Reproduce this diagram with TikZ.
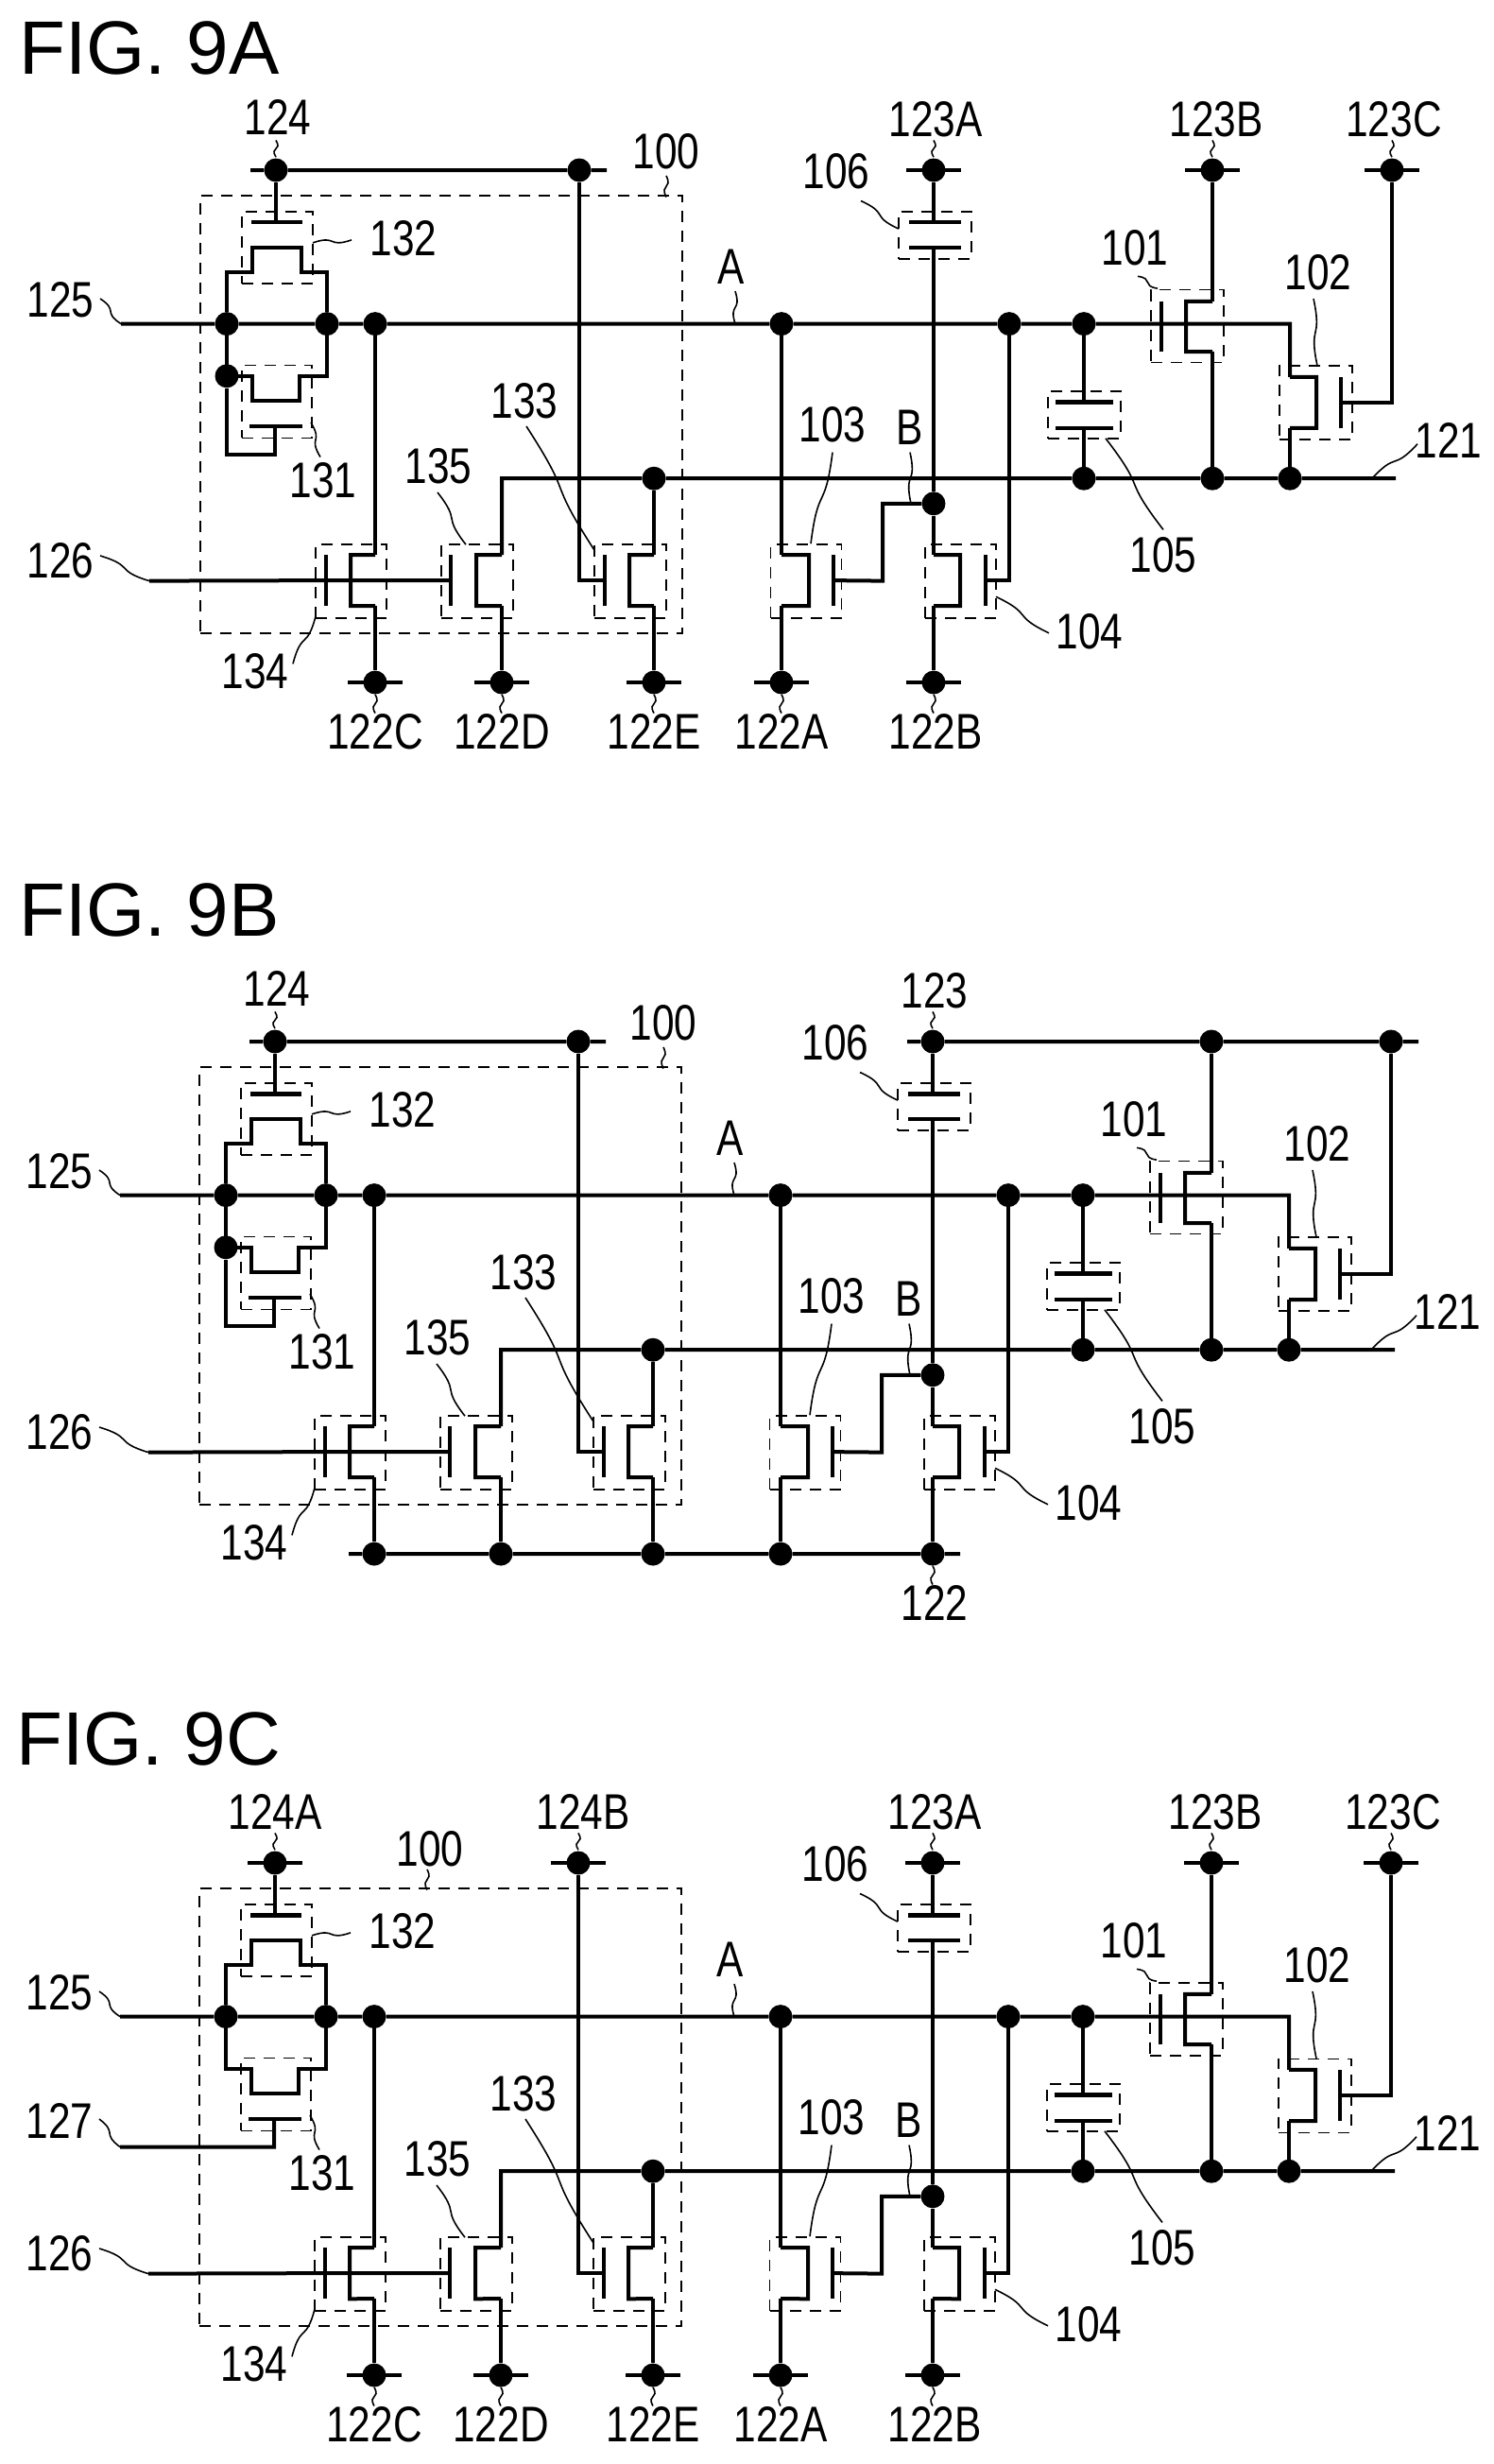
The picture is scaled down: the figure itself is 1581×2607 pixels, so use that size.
\documentclass[tikz,border=0pt]{standalone}
\usepackage{fontspec}
\setmainfont{Liberation Sans}
\newfontfamily\numfont[FakeStretch=0.8]{Liberation Sans}
\usetikzlibrary{calc}

% wiggly reference line between two points
\newcommand{\refline}[3]{
  \coordinate (#1s) at (#2);
  \coordinate (#1e) at (#3);
  \draw[refl] (#1s) .. controls ($($(#1s)!.65!(#1e)$)!7pt!90:(#1e)$) and ($($(#1s)!.35!(#1e)$)!-7pt!90:(#1e)$) .. (#1e);
}
% transistor: name, wire x, channel x, gate x, top y, bottom y
\newcommand{\fetdev}[6]{
  \coordinate (#1t) at (#2,#5);
  \coordinate (#1b) at (#2,#6);
  \coordinate (#1g) at (#4,{(#5+#6)/2});
  \draw[wire] (#1t) -- (#3,#5) -- (#3,#6) -- (#1b);
  \draw[plate] (#4,#5) -- (#4,#6);
}
% terminal: dot with short stubs
\newcommand{\termdot}[2]{
  \node[junction] (#1) at (#2) {};
  \draw[stub] ($(#1)+(-29,0)$) -- ($(#1)+(29,0)$);
}
% everything the three figures share
\newcommand{\circuitcore}{
  \node[tbox,minimum width=510pt,minimum height=463pt] (box100) at (467,441) {};
  \node[tbox,minimum width=75pt,minimum height=76pt] (box132) at (293.5,262) {};
  \node[tbox,minimum width=74pt,minimum height=77pt] (box131) at (293,427.5) {};
  \node[tbox,minimum width=75pt,minimum height=78pt] (box134) at (371.5,620) {};
  \node[tbox,minimum width=76pt,minimum height=78pt] (box135) at (505,620) {};
  \node[tbox,minimum width=76pt,minimum height=78pt] (box133) at (667,620) {};
  \node[tbox,minimum width=75pt,minimum height=78pt] (box103) at (853,620) {};
  \node[tbox,minimum width=75pt,minimum height=78pt] (box104) at (1016.5,620) {};
  \node[tbox,minimum width=77pt,minimum height=50pt] (box106) at (989.5,249) {};
  \node[tbox,minimum width=77pt,minimum height=50pt] (box105) at (1147.5,442) {};
  \node[tbox,minimum width=77pt,minimum height=77pt] (box101) at (1256.5,346.5) {};
  \node[tbox,minimum width=77pt,minimum height=78pt] (box102) at (1392.5,429) {};
  \node[junction] (nodeL) at (240,344) {};
  \node[junction] (nodeR) at (346,344) {};
  \node[junction] (nodeQ) at (397,344) {};
  \node[junction] (nodeA1) at (827,344) {};
  \node[junction] (nodeA2) at (1068,344) {};
  \node[junction] (nodeA3) at (1147,344) {};
  \node[junction] (nodeE) at (692,510) {};
  \node[junction] (nodeC) at (1147,510) {};
  \node[junction] (nodeF) at (1283,510) {};
  \node[junction] (nodeG) at (1365,510) {};
  \node[junction] (nodeB) at (988,537) {};
  \fetdev{t134}{397}{371}{345}{592}{647}
  \fetdev{t135}{531}{504}{477}{592}{647}
  \fetdev{t133}{692}{666}{640}{592}{647}
  \fetdev{t103}{827}{856}{882}{592}{647}
  \fetdev{t104}{988}{1016}{1043}{592}{647}
  \fetdev{t101}{1283}{1255}{1229}{320}{374}
  \fetdev{t102}{1365}{1393}{1419}{401}{456}
  % switch pair
  \coordinate (g132) at (292,235);
  \coordinate (g131) at (291,454);
  \draw[plate] (266,235) -- (320,235);
  \draw[plate] (264,454) -- (320,454);
  \draw[wire] (nodeL) -- (240,289) -- (267,289) -- (267,262) -- (319,262) -- (319,289) -- (346,289) -- (nodeR);
  \draw[wire] (nodeR) -- (346,400) -- (317,400) -- (317,427) -- (267,427) -- (267,400) -- (240,400) -- (nodeL);
  % node A and the low line
  \coordinate (cornerA) at (1365,344);
  \draw[wire] (nodeL) -- (nodeR) -- (nodeQ) -- (nodeA1) -- (nodeA2) -- (nodeA3) -- (cornerA) -- (t102t);
  \coordinate (end121) at (1477,510);
  \draw[wire] (t135t) |- (nodeE) -- (nodeC) -- (nodeF) -- (nodeG) -- (end121);
  \draw[wire] (nodeQ) -- (t134t);
  \draw[wire] (nodeE) -- (t133t);
  \draw[wire] (nodeA1) -- (t103t);
  \draw[wire] (nodeB) -- (t104t);
  \draw[wire] (nodeA2) |- (t104g);
  \draw[wire] (nodeB) -| (934,620) -- (t103g);
  \draw[wire] (nodeG) -- (t102b);
  \draw[wire] (t101b) -- (nodeF);
  % capacitors
  \coordinate (p106a) at (988,235);
  \coordinate (p106b) at (988,262);
  \draw[plate] (962,235) -- (1017,235);
  \draw[plate] (962,262) -- (1017,262);
  \draw[wire] (p106b) -- (nodeB);
  \coordinate (p105a) at (1147,428);
  \coordinate (p105b) at (1147,456);
  \draw[plate] (1117,428) -- (1178,428);
  \draw[plate] (1117,456) -- (1178,456);
  \draw[wire] (nodeA3) -- (p105a);
  \draw[wire] (p105b) -- (nodeC);
  % gate line 126
  \refline{r126}{106,593}{158,620}
  \draw[wire] (r126e) -- (t134g) -- (t135g);
  % labels
  \node[numlabel] (lab125) at (64,318) {125};
  \refline{r125}{106,317}{128,344}
  \draw[wire] (r125e) -- (nodeL);
  \node[numlabel] (lab126) at (64,598) {126};
  \node[numlabel] (lab132) at (427,252) {132};
  \refline{r132}{331,257}{372,254}
  \node[numlabel] (lab131) at (342,512) {131};
  \refline{r131}{329,450}{339,487}
  \node[numlabel] (lab133) at (555,427) {133};
  \refline{r133}{557,454}{629,587}
  \node[numlabel] (lab135) at (464,497) {135};
  \refline{r135}{463,525}{493,581}
  \node[numlabel] (lab134) at (270,717) {134};
  \refline{r134}{334,658}{310,709}
  \node[numlabel] (labA) at (774,283) {A};
  \refline{rA}{778,309}{778,344}
  \node[numlabel] (lab106) at (885,180) {106};
  \refline{r106}{911,212}{951,242}
  \node[numlabel] (lab101) at (1201,262) {101};
  \refline{r101}{1204,293}{1225,306}
  \node[numlabel] (lab102) at (1395,289) {102};
  \refline{r102}{1390,317}{1394,389}
  \node[numlabel] (lab103) at (881,452) {103};
  \refline{r103}{881,482}{858,580}
  \node[numlabel] (labB) at (963,455) {B};
  \refline{rB}{963,482}{964,537}
  \node[numlabel] (lab121) at (1533,469) {121};
  \refline{r121}{1500,473}{1452,510}
  \node[numlabel] (lab105) at (1231,592) {105};
  \refline{r105}{1170,467}{1231,565}
  \node[numlabel] (lab104) at (1153,674) {104};
  \refline{r104}{1054,637}{1110,676}
}
% separate terminals on the low side (figures A and C)
\newcommand{\lowterminals}{
  \termdot{end122C}{397,729}
  \termdot{end122D}{531,729}
  \termdot{end122E}{692,729}
  \termdot{end122A}{827,729}
  \termdot{end122B}{988,729}
  \draw[wire] (t134b) -- (end122C);
  \draw[wire] (t135b) -- (end122D);
  \draw[wire] (t133b) -- (end122E);
  \draw[wire] (t103b) -- (end122A);
  \draw[wire] (t104b) -- (end122B);
  \node[numlabel] (lab122C) at (397,782) {122C};
  \node[numlabel] (lab122D) at (531,782) {122D};
  \node[numlabel] (lab122E) at (692,782) {122E};
  \node[numlabel] (lab122A) at (827,782) {122A};
  \node[numlabel] (lab122B) at (990,782) {122B};
  \refline{r122C}{397,742}{397,762}
  \refline{r122D}{531,742}{531,762}
  \refline{r122E}{692,742}{692,762}
  \refline{r122A}{827,742}{827,762}
  \refline{r122B}{988,742}{988,762}
}
% separate terminals on the high side (figures A and C)
\newcommand{\highterminals}{
  \termdot{end123A}{988,179}
  \termdot{end123B}{1283,179}
  \termdot{end123C}{1473,179}
  \draw[wire] (end123A) -- (p106a);
  \draw[wire] (end123B) -- (t101t);
  \draw[wire] (end123C) |- (t102g);
  \node[numlabel] (lab123A) at (990,124) {123A};
  \node[numlabel] (lab123B) at (1287,124) {123B};
  \node[numlabel] (lab123C) at (1475,124) {123C};
  \refline{r123A}{988,147}{988,165}
  \refline{r123B}{1283,147}{1283,165}
  \refline{r123C}{1473,147}{1473,165}
}
% shared line 124 with the short-circuit gate of 131 (figures A and B)
\newcommand{\sharedgate}{
  \node[junction] (end124) at (292,179) {};
  \node[junction] (node124) at (613,179) {};
  \coordinate (stub124a) at (265,179);
  \coordinate (stub124b) at (642,179);
  \draw[wire] (stub124a) -- (end124) -- (node124) -- (stub124b);
  \draw[wire] (end124) -- (g132);
  \draw[wire] (node124) |- (t133g);
  \node[numlabel] (lab124) at (294,122) {124};
  \refline{r124}{292,147}{292,165}
  \node[junction] (node131) at (240,400) {};
  \draw[wire] (g131) -- (291,484) -- (240,484) -- (node131);
}

\begin{document}
\begin{tikzpicture}[x=1pt,y=-1pt,
    wire/.style={line width=4pt,line join=miter},
    plate/.style={line width=4.6pt},
    stub/.style={line width=3.6pt},
    refl/.style={line width=1.6pt},
    junction/.style={circle,fill=black,inner sep=0pt,minimum size=25pt},
    tbox/.style={draw,line width=1.8pt,dash pattern=on 12pt off 9pt,inner sep=0pt},
    numlabel/.style={inner sep=0pt,font=\numfont\fontsize{53}{56}\selectfont},
    figtitle/.style={inner sep=0pt,anchor=west,font=\fontsize{80}{90}\selectfont}]
  \useasboundingbox (0,0) rectangle (1581,2607);

  \node[figtitle] (titleA) at (20,51) {FIG. 9A};
  \node[figtitle] (titleB) at (20,963) {FIG. 9B};
  \node[figtitle] (titleC) at (17,1840) {FIG. 9C};

  % FIG. 9A
  \begin{scope}[name prefix=a-,shift={(0,3.6)},yscale=.9855]
    \circuitcore
    \lowterminals
    \highterminals
    \sharedgate
    \node[numlabel] (lab100) at (705,159) {100};
    \refline{r100}{705,185}{705,208}
  \end{scope}

  % FIG. 9B
  \begin{scope}[name prefix=b-,shift={(-1,925.6)},yscale=.9855]
    \circuitcore
    \sharedgate
    \node[numlabel] (lab100) at (703,159) {100};
    \refline{r100}{703,185}{703,208}
    % common low rail
    \node[junction] (rail122C) at (397,729) {};
    \node[junction] (rail122D) at (531,729) {};
    \node[junction] (rail122E) at (692,729) {};
    \node[junction] (rail122A) at (827,729) {};
    \node[junction] (end122) at (988,729) {};
    \coordinate (railstart) at (370,729);
    \coordinate (railend) at (1017,729);
    \draw[wire] (railstart) -- (rail122C) -- (rail122D) -- (rail122E) -- (rail122A) -- (end122) -- (railend);
    \draw[wire] (t134b) -- (rail122C);
    \draw[wire] (t135b) -- (rail122D);
    \draw[wire] (t133b) -- (rail122E);
    \draw[wire] (t103b) -- (rail122A);
    \draw[wire] (t104b) -- (end122);
    \node[numlabel] (lab122) at (990,782) {122};
    \refline{r122}{988,742}{988,762}
    % common high rail
    \node[junction] (end123) at (988,179) {};
    \node[junction] (rail123B) at (1283,179) {};
    \node[junction] (rail123C) at (1473,179) {};
    \coordinate (hstart) at (961,179);
    \coordinate (hend) at (1502,179);
    \draw[wire] (hstart) -- (end123) -- (rail123B) -- (rail123C) -- (hend);
    \draw[wire] (end123) -- (p106a);
    \draw[wire] (rail123B) -- (t101t);
    \draw[wire] (rail123C) |- (t102g);
    \node[numlabel] (lab123) at (990,124) {123};
    \refline{r123}{988,147}{988,165}
  \end{scope}

  % FIG. 9C
  \begin{scope}[name prefix=c-,shift={(-1,1794.6)},yscale=.9855]
    \circuitcore
    \lowterminals
    \highterminals
    \termdot{end124A}{292,179}
    \termdot{end124B}{613,179}
    \draw[wire] (end124A) -- (g132);
    \draw[wire] (end124B) |- (t133g);
    \node[numlabel] (lab124A) at (292,124) {124A};
    \node[numlabel] (lab124B) at (618,124) {124B};
    \refline{r124A}{292,147}{292,165}
    \refline{r124B}{613,147}{613,165}
    \node[numlabel] (lab100) at (456,164) {100};
    \refline{r100}{453,186}{453,208}
    \node[numlabel] (lab127) at (64,456) {127};
    \refline{r127}{106,454}{128,484}
    \draw[wire] (g131) -- (291,484) -- (r127e);
  \end{scope}
\end{tikzpicture}
\end{document}
